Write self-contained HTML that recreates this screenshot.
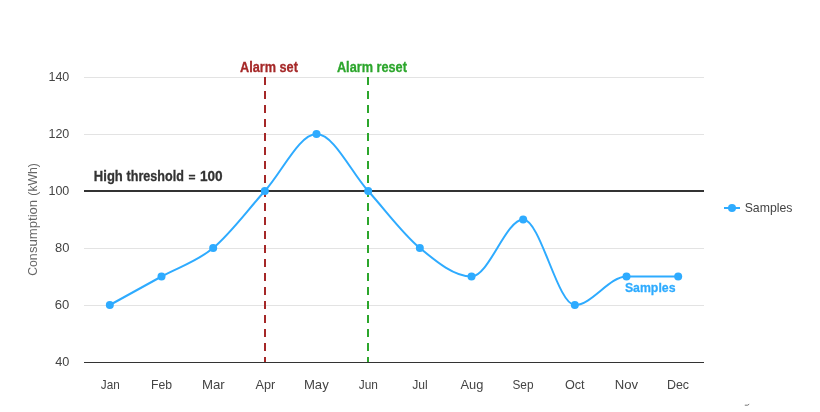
<!DOCTYPE html>
<html><head><meta charset="utf-8"><style>
html,body{margin:0;padding:0;background:#fff;width:820px;height:412px;overflow:hidden}
svg{display:block;will-change:transform}
text{font-family:"Liberation Sans",sans-serif}
.ax{fill:#444}
.yl{fill:#444}
.yt{fill:#666}
.thr{font-weight:bold;fill:#333;stroke:#333;stroke-width:0.3px}
.al{font-weight:bold;stroke-width:0.3px}
.sl{font-weight:bold;stroke-width:0.3px}
.lg{fill:#444}
</style></head><body>
<svg width="820" height="412" viewBox="0 0 820 412">
<rect x="84.0" y="77.0" width="620.0" height="1" fill="#e3e3e3"/>
<rect x="84.0" y="134.0" width="620.0" height="1" fill="#e3e3e3"/>
<rect x="84.0" y="248.0" width="620.0" height="1" fill="#e3e3e3"/>
<rect x="84.0" y="305.0" width="620.0" height="1" fill="#e3e3e3"/>
<rect x="84.0" y="362.0" width="620.0" height="1" fill="#333333"/>
<text x="48.46" y="80.90" class="yl" style="font-size:13.1px" textLength="20.87" lengthAdjust="spacingAndGlyphs">140</text>
<text x="48.46" y="137.90" class="yl" style="font-size:13.1px" textLength="20.87" lengthAdjust="spacingAndGlyphs">120</text>
<text x="48.46" y="194.90" class="yl" style="font-size:13.1px" textLength="20.87" lengthAdjust="spacingAndGlyphs">100</text>
<text x="54.95" y="251.90" class="yl" style="font-size:13.1px" textLength="14.42" lengthAdjust="spacingAndGlyphs">80</text>
<text x="54.85" y="308.90" class="yl" style="font-size:13.1px" textLength="14.52" lengthAdjust="spacingAndGlyphs">60</text>
<text x="55.21" y="365.90" class="yl" style="font-size:13.1px" textLength="14.14" lengthAdjust="spacingAndGlyphs">40</text>
<text x="100.82" y="388.75" class="ax" style="font-size:12.73px" textLength="18.94" lengthAdjust="spacingAndGlyphs">Jan</text>
<text x="150.99" y="388.75" class="ax" style="font-size:12.73px" textLength="21.03" lengthAdjust="spacingAndGlyphs">Feb</text>
<text x="201.91" y="388.75" class="ax" style="font-size:12.73px" textLength="22.82" lengthAdjust="spacingAndGlyphs">Mar</text>
<text x="255.47" y="388.75" class="ax" style="font-size:12.73px" textLength="19.74" lengthAdjust="spacingAndGlyphs">Apr</text>
<text x="303.91" y="388.75" class="ax" style="font-size:12.73px" textLength="24.86" lengthAdjust="spacingAndGlyphs">May</text>
<text x="358.82" y="388.75" class="ax" style="font-size:12.73px" textLength="19.15" lengthAdjust="spacingAndGlyphs">Jun</text>
<text x="412.32" y="388.75" class="ax" style="font-size:12.73px" textLength="15.48" lengthAdjust="spacingAndGlyphs">Jul</text>
<text x="460.47" y="388.75" class="ax" style="font-size:12.73px" textLength="22.86" lengthAdjust="spacingAndGlyphs">Aug</text>
<text x="512.47" y="388.75" class="ax" style="font-size:12.73px" textLength="21.03" lengthAdjust="spacingAndGlyphs">Sep</text>
<text x="564.90" y="388.75" class="ax" style="font-size:12.73px" textLength="19.71" lengthAdjust="spacingAndGlyphs">Oct</text>
<text x="614.72" y="388.75" class="ax" style="font-size:12.73px" textLength="23.33" lengthAdjust="spacingAndGlyphs">Nov</text>
<text x="666.97" y="388.75" class="ax" style="font-size:12.73px" textLength="22.10" lengthAdjust="spacingAndGlyphs">Dec</text>
<text transform="translate(36.9,0) rotate(-90)" x="-275.81" y="0" class="yt" style="font-size:13.0px" textLength="22.29" lengthAdjust="spacingAndGlyphs">Con</text>
<text transform="translate(36.9,0) rotate(-90)" x="-253.06" y="0" class="yt" style="font-size:13.0px" textLength="53.21" lengthAdjust="spacingAndGlyphs">sumption</text>
<text transform="translate(36.9,0) rotate(-90)" x="-195.66" y="0" class="yt" style="font-size:13.0px" textLength="32.51" lengthAdjust="spacingAndGlyphs">(kWh)</text>
<rect x="84.0" y="190" width="620.0" height="2" fill="#333333"/>
<text x="93.87" y="180.75" class="thr" style="font-size:14.2px" textLength="28.93" lengthAdjust="spacingAndGlyphs">High</text>
<text x="126.59" y="180.75" class="thr" style="font-size:14.2px" textLength="57.23" lengthAdjust="spacingAndGlyphs">threshold</text>
<text x="188.49" y="180.75" class="thr" style="font-size:11.2px" textLength="7.01" lengthAdjust="spacingAndGlyphs">=</text>
<text x="199.90" y="180.75" class="thr" style="font-size:14.2px" textLength="22.66" lengthAdjust="spacingAndGlyphs">100</text>
<line x1="265" y1="77" x2="265" y2="362" stroke="#a52828" stroke-width="2" stroke-dasharray="8 6"/>
<line x1="368" y1="77" x2="368" y2="362" stroke="#2ca62c" stroke-width="2" stroke-dasharray="8 6"/>
<text x="239.98" y="71.90" class="al" fill="#a52828" stroke="#a52828" style="font-size:14.4px" textLength="57.93" lengthAdjust="spacingAndGlyphs">Alarm set</text>
<text x="336.93" y="71.90" class="al" fill="#2ca62c" stroke="#2ca62c" style="font-size:14.4px" textLength="69.98" lengthAdjust="spacingAndGlyphs">Alarm reset</text>
<path d="M109.83,305.00 C127.06,295.50 144.28,286.00 161.50,276.50 C178.72,267.00 195.94,262.25 213.17,248.00 C230.39,233.75 247.61,210.00 264.83,191.00 C282.06,172.00 299.28,134.00 316.50,134.00 C333.72,134.00 350.94,172.00 368.17,191.00 C385.39,210.00 402.61,233.75 419.83,248.00 C437.06,262.25 454.28,276.50 471.50,276.50 C488.72,276.50 505.94,219.50 523.17,219.50 C540.39,219.50 557.61,305.00 574.83,305.00 C592.06,305.00 609.28,276.50 626.50,276.50 C643.72,276.50 660.94,276.50 678.17,276.50" fill="none" stroke="#2eabff" stroke-width="2"/>
<circle cx="109.83" cy="305.00" r="4" fill="#2eabff"/>
<circle cx="161.50" cy="276.50" r="4" fill="#2eabff"/>
<circle cx="213.17" cy="248.00" r="4" fill="#2eabff"/>
<circle cx="264.83" cy="191.00" r="4" fill="#2eabff"/>
<circle cx="316.50" cy="134.00" r="4" fill="#2eabff"/>
<circle cx="368.17" cy="191.00" r="4" fill="#2eabff"/>
<circle cx="419.83" cy="248.00" r="4" fill="#2eabff"/>
<circle cx="471.50" cy="276.50" r="4" fill="#2eabff"/>
<circle cx="523.17" cy="219.50" r="4" fill="#2eabff"/>
<circle cx="574.83" cy="305.00" r="4" fill="#2eabff"/>
<circle cx="626.50" cy="276.50" r="4" fill="#2eabff"/>
<circle cx="678.17" cy="276.50" r="4" fill="#2eabff"/>
<text x="624.88" y="291.75" class="sl" fill="#2eabff" stroke="#2eabff" style="font-size:13.6px" textLength="50.62" lengthAdjust="spacingAndGlyphs">Samples</text>
<rect x="724" y="207" width="16" height="2" fill="#2eabff"/>
<circle cx="732" cy="208" r="4" fill="#2eabff"/>
<text x="744.70" y="212.00" class="lg" style="font-size:13.2px" textLength="47.74" lengthAdjust="spacingAndGlyphs">Samples</text>
<path d="M744.8,405.2 L747.6,405.2 L749.2,404.2" stroke="#666" stroke-width="0.9" fill="none"/>
</svg>
</body></html>
